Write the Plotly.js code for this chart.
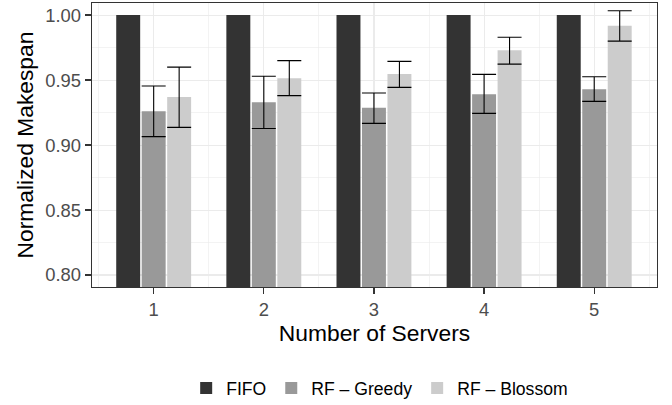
<!DOCTYPE html>
<html>
<head>
<meta charset="utf-8">
<script src="https://cdn.plot.ly/plotly-3.0.1.min.js"></script>
<style>html,body{margin:0;padding:0;background:#fff;}#chart{width:672px;height:405px;}</style>
</head>
<body>
<div id="chart"></div>
<script>
const servers = [1, 2, 3, 4, 5];
const fifo = [1.0, 1.0, 1.0, 1.0, 1.0];
const greedy = [0.926, 0.933, 0.9287, 0.939, 0.943];
const greedyUpper = [0.9455, 0.953, 0.940, 0.9544, 0.9526];
const greedyLower = [0.9065, 0.9128, 0.9167, 0.9244, 0.9336];
const blossom = [0.937, 0.9515, 0.9546, 0.973, 0.9918];
const blossomUpper = [0.960, 0.965, 0.9644, 0.983, 1.0033];
const blossomLower = [0.9136, 0.938, 0.9444, 0.9623, 0.980];
const yTicks = [0.80, 0.85, 0.90, 0.95, 1.00];

const font = "Liberation Sans, Arial, sans-serif";
function errs(vals, up, lo) {
  return {
    type: 'data', symmetric: false,
    array: vals.map((v, i) => up[i] - v),
    arrayminus: vals.map((v, i) => v - lo[i]),
    color: '#000000', thickness: 1.1, width: 12
  };
}

const traces = [
  {type: 'bar', name: 'FIFO', x: servers, y: fifo, marker: {color: '#333333'}},
  {type: 'bar', name: 'RF – Greedy', x: servers, y: greedy, marker: {color: '#999999'},
   error_y: errs(greedy, greedyUpper, greedyLower)},
  {type: 'bar', name: 'RF – Blossom', x: servers, y: blossom, marker: {color: '#cccccc'},
   error_y: errs(blossom, blossomUpper, blossomLower)}
];

const layout = {
  width: 672, height: 405,
  margin: {l: 92, r: 15, t: 3, b: 118},
  paper_bgcolor: '#ffffff', plot_bgcolor: '#ffffff',
  font: {family: font, color: '#000000'},
  barmode: 'group', bargap: 0.306, bargroupgap: 0.06,
  showlegend: true,
  legend: {orientation: 'h', xref: 'container', yref: 'container', x: 0.565, xanchor: 'center',
           y: 0.042, yanchor: 'middle',
           font: {size: 17.6, color: '#000000', family: font}, traceorder: 'normal'},
  xaxis: {
    range: [0.44, 5.57], tickmode: 'array', tickvals: servers, ticktext: servers.map(String),
    showgrid: true, gridcolor: '#ebebeb', gridwidth: 1.1,
    minor: {dtick: 0.5, tick0: 0.5, showgrid: true, gridcolor: '#ebebeb', gridwidth: 0.6, ticklen: 0},
    zeroline: false, showline: true, mirror: true, linecolor: '#333333', linewidth: 1.3,
    ticks: 'outside', ticklen: 6, tickwidth: 1.3, tickcolor: '#333333',
    automargin: false,
    tickfont: {size: 18.4, color: '#4d4d4d', family: font},
    title: {text: 'Number of Servers', font: {size: 22.8, color: '#000000', family: font}, standoff: 4}
  },
  yaxis: {
    range: [0.7908, 1.0093], tickmode: 'array', tickvals: yTicks,
    tickformat: '.2f', automargin: false,
    showgrid: true, gridcolor: '#ebebeb', gridwidth: 1.1,
    minor: {tickmode: 'array', tickvals: [0.825, 0.875, 0.925, 0.975], showgrid: true, gridcolor: '#ebebeb', gridwidth: 0.6, ticklen: 0},
    zeroline: false, showline: true, mirror: true, linecolor: '#333333', linewidth: 1.3,
    ticks: 'outside', ticklen: 6, tickwidth: 1.3, tickcolor: '#333333',
    tickfont: {size: 18.4, color: '#4d4d4d', family: font},
    title: {text: 'Normalized Makespan', font: {size: 22.8, color: '#000000', family: font}, standoff: 5}
  }
};

Plotly.newPlot('chart', traces, layout, {displayModeBar: false, staticPlot: true});
</script>
</body>
</html>
